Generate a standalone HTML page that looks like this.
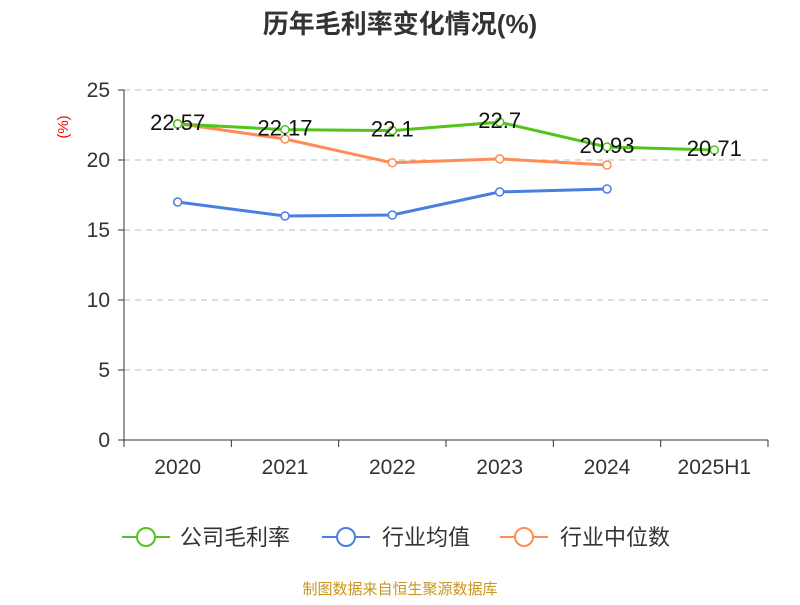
<!DOCTYPE html>
<html><head><meta charset="utf-8"><style>
body{margin:0;background:#fff;font-family:"Liberation Sans","Noto Sans CJK SC",sans-serif;}
</style></head><body>
<svg width="800" height="600" xmlns="http://www.w3.org/2000/svg" style="font-family:'Liberation Sans','Noto Sans CJK SC',sans-serif">
<text x="400" y="33" text-anchor="middle" font-size="26" font-weight="bold" fill="#333">历年毛利率变化情况(%)</text>
<text x="68" y="127" text-anchor="middle" font-size="15" fill="#e00" transform="rotate(-90 68 127)">(%)</text>
<g id="grid"></g><g id="axes"></g><g id="series"></g>
<g>
<g><line x1="122" y1="537" x2="170" y2="537" stroke="#52c41a" stroke-width="2"/><circle cx="146" cy="537" r="9" fill="#fff" stroke="#52c41a" stroke-width="2"/><text x="180" y="545" font-size="22" fill="#333">公司毛利率</text></g>
<g><line x1="322" y1="537" x2="370" y2="537" stroke="#4a7fe0" stroke-width="2"/><circle cx="346" cy="537" r="9" fill="#fff" stroke="#4a7fe0" stroke-width="2"/><text x="382" y="545" font-size="22" fill="#333">行业均值</text></g>
<g><line x1="500" y1="537" x2="548" y2="537" stroke="#ff8c55" stroke-width="2"/><circle cx="524" cy="537" r="9" fill="#fff" stroke="#ff8c55" stroke-width="2"/><text x="560" y="545" font-size="22" fill="#333">行业中位数</text></g>
</g>
<text x="400" y="594" text-anchor="middle" font-size="15" fill="#c8961e">制图数据来自恒生聚源数据库</text>
</svg>
<script>
const categories=["2020","2021","2022","2023","2024","2025H1"];
const companyValues=[22.57,22.17,22.1,22.7,20.93,20.71];
const avgValues=[17.0,16.0,16.07,17.72,17.93];
const medianValues=[22.6,21.5,19.8,20.08,19.64];
const yTicks=[0,5,10,15,20,25];
const NS="http://www.w3.org/2000/svg";
const x0=124,x1=768,y0=440,yTop=90,yMax=25;
const bw=(x1-x0)/categories.length;
const xs=i=>x0+bw*(i+0.5);
const ys=v=>y0-(v/yMax)*(y0-yTop);
function mk(p,t,a){const e=document.createElementNS(NS,t);for(const k in a)e.setAttribute(k,a[k]);p.appendChild(e);return e;}
const grid=document.getElementById('grid'),axes=document.getElementById('axes'),ser=document.getElementById('series');
yTicks.forEach(v=>{
 if(v>0){const l=mk(grid,'line',{x1:x0,x2:x1,y1:ys(v),y2:ys(v),stroke:'#bbb','stroke-dasharray':'6,5'});
 
 }
 mk(axes,'line',{x1:x0-6,x2:x0,y1:ys(v),y2:ys(v),stroke:'#333'});
 const t=mk(axes,'text',{x:x0-14,y:ys(v)+7,'text-anchor':'end','font-size':21,fill:'#333'});t.textContent=v;
 
 
});
mk(axes,'line',{x1:x0,x2:x0,y1:yTop,y2:y0,stroke:'#333'});
mk(axes,'line',{x1:x0,x2:x1,y1:y0,y2:y0,stroke:'#333'});
for(let i=0;i<=categories.length;i++)mk(axes,'line',{x1:x0+bw*i,x2:x0+bw*i,y1:y0,y2:y0+7,stroke:'#333'});
categories.forEach((c,i)=>{const t=mk(axes,'text',{x:xs(i),y:y0+34,'text-anchor':'middle','font-size':21,fill:'#333'});t.textContent=c;
 
 });
function series(vals,color,name,labels){
 const g=mk(ser,'g',{});
 
 
 mk(g,'polyline',{points:vals.map((v,i)=>xs(i)+','+ys(v)).join(' '),fill:'none',stroke:color,'stroke-width':3});
 vals.forEach((v,i)=>{const c=mk(g,'circle',{cx:xs(i),cy:ys(v),r:4,fill:'#fff',stroke:color,'stroke-width':1.5});
  
  
  if(labels){const t=mk(g,'text',{x:xs(i),y:ys(v)+6,'text-anchor':'middle','font-size':22,fill:'#111'});t.textContent=v;
  
  }});
}
series(avgValues,'#4a7fe0','industry-avg-line',false);
series(medianValues,'#ff8c55','industry-median-line',false);
series(companyValues,'#52c41a','company-line',true);
</script>
</body></html>
